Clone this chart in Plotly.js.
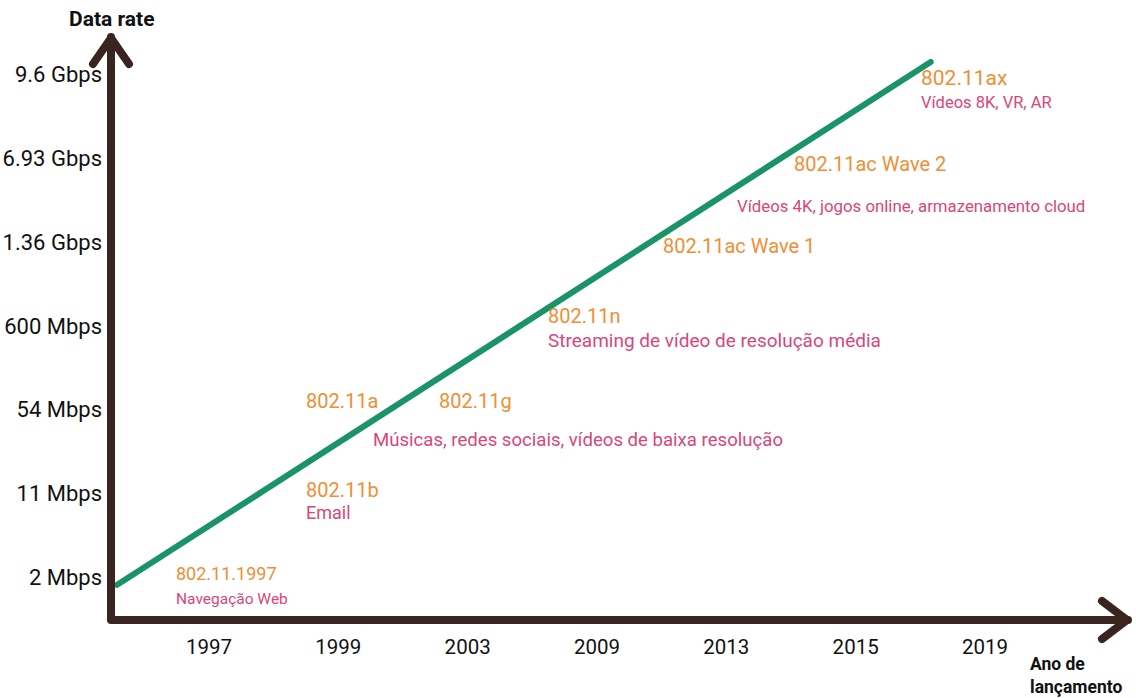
<!DOCTYPE html>
<html>
<head>
<meta charset="utf-8">
<script src="https://cdn.plot.ly/plotly-3.0.1.min.js"></script>
<style>
html,body{margin:0;padding:0;background:#fff;}
#chart{width:1136px;height:698px;}
.scatterlayer .js-line{stroke-linecap:round;stroke-linejoin:round;}
.shapelayer path{stroke-linecap:round;stroke-linejoin:round;}
</style>
</head>
<body>
<div id="chart"></div>
<script>
// ---- data ----
const years = ['1997', '1999', '2003', '2009', '2013', '2015', '2019'];
const rates = ['2 Mbps', '11 Mbps', '54 Mbps', '600 Mbps', '1.36 Gbps', '6.93 Gbps', '9.6 Gbps'];

const standards   = ['802.11.1997', '802.11b', '802.11a', '802.11g', '802.11n', '802.11ac Wave 1', '802.11ac Wave 2', '802.11ax'];
const stdYears    = ['1997', '1999', '1999', '2003', '2009', '2013', '2015', '2019'];
const stdRates    = ['2 Mbps', '11 Mbps', '54 Mbps', '54 Mbps', '600 Mbps', '1.36 Gbps', '6.93 Gbps', '9.6 Gbps'];

const useCases     = ['Navegação Web', 'Email', 'Músicas, redes sociais, vídeos de baixa resolução', 'Streaming de vídeo de resolução média', 'Vídeos 4K, jogos online, armazenamento cloud', 'Vídeos 8K, VR, AR'];
const useCaseYears = ['1997', '1999', '2003', '2009', '2015', '2019'];
const useCaseRates = ['2 Mbps', '11 Mbps', '54 Mbps', '600 Mbps', '6.93 Gbps', '9.6 Gbps'];

// trend line (in year-index / rate-index units)
const trendX = [-0.71, 5.58];
const trendY = [-0.09, 6.15];

// ---- styles ----
const ORANGE = '#F08E35';
const PINK = '#D9467A';
const GREEN = '#1A9467';
const AXIS = '#3A2420';
const FONT = 'Roboto, Arial, sans-serif';

// label offsets (pixels) relative to their (year, rate) anchor, and font size
const stdShift = [[-34, 4, 18], [-33, 3.5, 20], [-33, 9, 20], [-30, 9, 20], [-50, 10, 20], [-64, -4, 20], [-63, -6, 20], [-65, -3.5, 21]];
const useShift = [[-34, -22, 15.5], [-33, -18.5, 18], [-96, -30, 18.6], [-50, -14.5, 19], [-120, -48, 16.8], [-65, -27.5, 16.5]];

const xi = y => years.indexOf(y);
const yi = r => rates.indexOf(r);

// plot area geometry for paper-coordinate decorations
const M = {l: 111, r: 8, t: 37, b: 78};
const W = 1136, H = 698;
const pw = W - M.l - M.r, ph = H - M.t - M.b;
const P = (x, y) => [(x - M.l) / pw, (H - M.b - y) / ph];
function path(pts) {
  return pts.map((p, i) => { const q = P(p[0], p[1]); return (i ? 'L' : 'M') + q[0].toFixed(5) + ',' + q[1].toFixed(5); }).join(' ');
}

const annotations = [];
standards.forEach((s, i) => {
  annotations.push({
    x: xi(stdYears[i]), y: yi(stdRates[i]), xref: 'x', yref: 'y', text: s, showarrow: false,
    xanchor: 'left', yanchor: 'middle', xshift: stdShift[i][0], yshift: stdShift[i][1], borderpad: 0,
    font: {family: FONT, size: stdShift[i][2], color: ORANGE}
  });
});
useCases.forEach((s, i) => {
  annotations.push({
    x: xi(useCaseYears[i]), y: yi(useCaseRates[i]), xref: 'x', yref: 'y', text: s, showarrow: false,
    xanchor: 'left', yanchor: 'middle', xshift: useShift[i][0], yshift: useShift[i][1], borderpad: 0,
    font: {family: FONT, size: useShift[i][2], color: PINK}
  });
});
annotations.push({
  x: P(112, 19)[0], y: P(112, 19)[1], xref: 'paper', yref: 'paper', text: '<b>Data rate</b>', showarrow: false,
  xanchor: 'center', yanchor: 'middle', font: {family: FONT, size: 21, color: '#111'}
});
annotations.push({
  x: P(1028, 676)[0], y: P(1028, 676)[1], xref: 'paper', yref: 'paper', text: '<b>Ano de<br>lançamento</b>', showarrow: false,
  xanchor: 'left', yanchor: 'middle', align: 'left', font: {family: FONT, size: 17.5, color: '#111'}
});

const shapes = [
  {type: 'path', xref: 'paper', yref: 'paper', path: path([[111, 37], [111, 620], [1128, 620]]), line: {color: AXIS, width: 8}},
  {type: 'path', xref: 'paper', yref: 'paper', path: path([[93, 64], [111, 38], [129, 64]]), line: {color: AXIS, width: 8}},
  {type: 'path', xref: 'paper', yref: 'paper', path: path([[1102, 601], [1127, 620], [1102, 639]]), line: {color: AXIS, width: 8}}
];

const traces = [{
  x: trendX, y: trendY, type: 'scatter', mode: 'lines',
  line: {color: GREEN, width: 6}, hoverinfo: 'skip', showlegend: false, cliponaxis: false
}];

// pixel scale of the two ordinal axes
const pxPerX = (985 - 209) / 6;
const pxPerY = 83.8, y0px = 577.3;
const layout = {
  width: W, height: H,
  margin: M,
  paper_bgcolor: '#fff', plot_bgcolor: '#fff',
  showlegend: false,
  font: {family: FONT, color: '#111'},
  xaxis: {
    range: [-(209 - M.l) / pxPerX, 6 + (W - M.r - 985) / pxPerX],
    tickvals: years.map((_, i) => i), ticktext: years,
    showgrid: false, zeroline: false, showline: false, ticks: '',
    tickfont: {family: FONT, size: 20.5, color: '#111'}, ticklabelstandoff: 12, fixedrange: true
  },
  yaxis: {
    range: [-(H - M.b - y0px) / pxPerY, (y0px - M.t) / pxPerY],
    tickvals: rates.map((_, i) => i), ticktext: rates,
    showgrid: false, zeroline: false, showline: false, ticks: '',
    tickfont: {family: FONT, size: 22, color: '#111'}, ticklabelstandoff: 8, fixedrange: true
  },
  annotations: annotations,
  shapes: shapes
};

Plotly.newPlot('chart', traces, layout, {displayModeBar: false, staticPlot: true});
</script>
</body>
</html>
